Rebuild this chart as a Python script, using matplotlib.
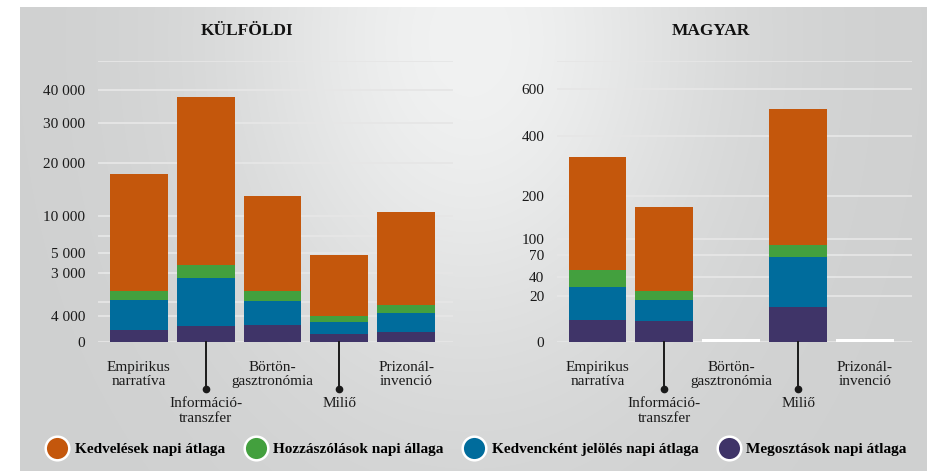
import numpy as np
import matplotlib
matplotlib.use("Agg")
import matplotlib.pyplot as plt
from matplotlib.lines import Line2D

plt.rcParams['font.family'] = ['Liberation Serif', 'DejaVu Serif']

# --- adatok ---
kategoriak = ["Empirikus\nnarratíva", "Információ-\ntranszfer", "Börtön-\ngasztronómia",
              "Miliő", "Prizonál-\ninvenció"]
sorozatok = ["Megosztások napi átlaga", "Kedvencként jelölés napi átlaga",
             "Hozzászólások napi állaga", "Kedvelések napi átlaga"]
szinek = ["#3f3468", "#006c9c", "#43a03e", "#c4570c"]

# külföldi (alulról felfelé: megosztás, kedvenc, hozzászólás, kedvelés)
kulf_megoszt = [86, 155, 176, 37, 59]
kulf_kedvenc = [1009, 2401, 867, 207, 460]
kulf_hozzasz = [523, 1149, 575, 172, 329]
kulf_kedveles = [16097, 34015, 11752, 4317, 9745]

# magyar
magy_megoszt = [4.4, 4.0, 0, 11.3, 0]
magy_kedvenc = [23.8, 12.4, 0, 56.2, 0]
magy_hozzasz = [20.2, 7.8, 0, 20.5, 0]
magy_kedveles = [272.6, 146.8, 0, 422.0, 0]
magy_nincs_adat = [False, False, True, False, True]

kulf_ticks = [0, 400, 3000, 5000, 10000, 20000, 30000, 40000]
kulf_ticklabels = ["0", "4 000", "3 000", "5 000", "10 000", "20 000", "30 000", "40 000"]
kulf_grid = [0, 400, 1000, 3000, 5000, 7000, 10000, 20000, 30000, 40000]
kulf_max = 49600

magy_ticks = [0, 20, 40, 70, 100, 200, 400, 600]
magy_ticklabels = ["0", "20", "40", "70", "100", "200", "400", "600"]
magy_grid = magy_ticks
magy_max = 742

W, H = 928, 471
fig = plt.figure(figsize=(W / 100, H / 100), dpi=100)
fig.patch.set_facecolor("white")

# háttér: szürke, középen világosabb folt
bg = fig.add_axes([20 / W, 0, (W - 20) / W, (H - 7) / H], zorder=-5)
xx, yy = np.meshgrid(np.arange(20, W), np.arange(7, H))
t = np.exp(-(((xx - 470) / 170.0) ** 2 / 2 + ((yy - 40) / 230.0) ** 2 / 2))
c_edge = np.array([207, 208, 208]) / 255
c_mid = np.array([241, 242, 242]) / 255
img = c_edge[None, None, :] * (1 - t[..., None]) + c_mid[None, None, :] * t[..., None]
bg.imshow(img, aspect="auto", interpolation="bilinear")
bg.axis("off")

sqrt_scale = (lambda v: np.sqrt(np.clip(v, 0, None)), lambda v: np.square(v))


def panel(rect, reszek, ticks, ticklabels, grid, ymax, nincs_adat=None):
    ax = fig.add_axes(rect)
    ax.set_facecolor("none")
    ax.set_yscale("function", functions=sqrt_scale)
    ax.set_ylim(0, ymax)
    ax.set_xlim(-0.61, 4.70)
    x = np.arange(len(kategoriak))
    for g in list(grid) + [ymax]:
        ax.axhline(g, color="#e6e6e6", lw=1.3, zorder=0)
    alap = np.zeros(len(kategoriak))
    for ertek, szin in zip(reszek, szinek):
        ax.bar(x, ertek, bottom=alap, width=0.866, color=szin, zorder=2)
        alap = alap + np.array(ertek)
    if nincs_adat is not None:
        for i, n in enumerate(nincs_adat):
            if n:
                ax.bar(i, 0.09, width=0.866, color="white", zorder=2)
    ax.set_yticks(ticks)
    ax.set_yticklabels(ticklabels)
    ax.yaxis.set_minor_locator(matplotlib.ticker.NullLocator())
    ax.tick_params(axis="y", length=0, pad=9, labelsize=11, labelcolor="#1a1a1a")
    ax.set_xticks([])
    for s in ax.spines.values():
        s.set_visible(False)
    tr = ax.get_xaxis_transform()
    for i, nev in enumerate(kategoriak):
        if i % 2 == 0:
            ax.annotate(nev, (i, 0), xycoords=tr, xytext=(0, -23.5), textcoords="offset points",
                        ha="center", va="center", fontsize=11, color="#1a1a1a",
                        linespacing=1.15)
        else:
            ax.plot([i, i], [0, -0.168], transform=tr, clip_on=False, color="#1a1a1a", lw=1.4)
            ax.plot([i], [-0.168], transform=tr, clip_on=False, marker="o", ms=4.5,
                    color="#1a1a1a")
            ax.annotate(nev, (i, 0), xycoords=tr, xytext=(0, -40), textcoords="offset points",
                        ha="center", va="top", fontsize=11, color="#1a1a1a",
                        linespacing=1.15)
    return ax


bottom = (H - 341.7) / H
height = 280.7 / H
panel([98 / W, bottom, 355 / W, height],
      [kulf_megoszt, kulf_kedvenc, kulf_hozzasz, kulf_kedveles],
      kulf_ticks, kulf_ticklabels, kulf_grid, kulf_max)
panel([556.7 / W, bottom, 355 / W, height],
      [magy_megoszt, magy_kedvenc, magy_hozzasz, magy_kedveles],
      magy_ticks, magy_ticklabels, magy_grid, magy_max, magy_nincs_adat)

fig.text(247 / W, (H - 31) / H, "KÜLFÖLDI", ha="center", va="center",
         fontsize=12.5, fontweight="bold", color="#111111")
fig.text(711 / W, (H - 31) / H, "MAGYAR", ha="center", va="center",
         fontsize=12.5, fontweight="bold", color="#111111")

kezelok = [Line2D([], [], ls="none", marker="o", ms=17, mfc=szinek[i], mec="white", mew=1.8)
           for i in [3, 2, 1, 0]]
cimkek = [sorozatok[i] for i in [3, 2, 1, 0]]
fig.legend(kezelok, cimkek, loc="center", bbox_to_anchor=(476 / W, 22 / H), ncol=4,
           frameon=False, handlelength=1.6, handletextpad=0.35, columnspacing=1.2,
           prop={"weight": "bold", "size": 11})

fig.savefig("out.png", dpi=100)
